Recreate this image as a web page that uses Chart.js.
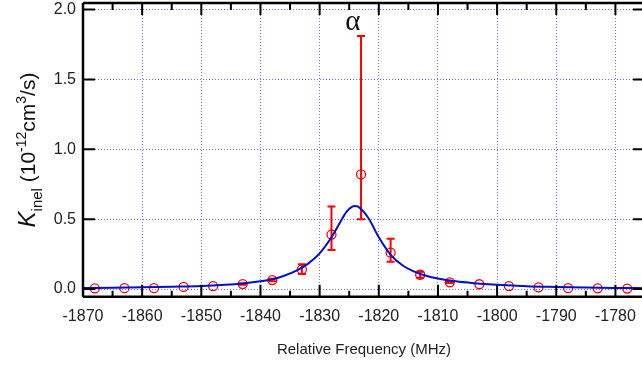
<!DOCTYPE html>
<html>
<head>
<meta charset="utf-8">
<script src="https://cdn.jsdelivr.net/npm/chart.js@4/dist/chart.umd.min.js"></script>
<style>
html,body{margin:0;padding:0;background:#fff;overflow:hidden;width:642px;height:370px;}
#wrap{width:646px;height:370px;}
</style>
</head>
<body>
<div id="wrap"><canvas id="c" width="646" height="370"></canvas></div>
<script>
// ---- data ----
const freq = [-1868,-1863,-1858,-1853,-1848,-1843,-1838,-1833,-1828,-1823,-1818,-1813,-1808,-1803,-1798,-1793,-1788,-1783,-1778];
const kinel = [0.004,0.006,0.006,0.015,0.02,0.035,0.064,0.14,0.39,0.82,0.26,0.102,0.048,0.034,0.021,0.012,0.006,0.005,0.003];
const errLow  = [null,null,null,null,null,0.03,0.055,0.107,0.28,0.50,0.195,0.08,0.043,null,null,null,null,null,null];
const errHigh = [null,null,null,null,null,0.04,0.073,0.178,0.59,1.81,0.36,0.124,0.053,null,null,null,null,null,null];
const fitFreq = [-1870,-1865,-1860,-1855,-1850,-1846,-1843,-1840,-1838,-1836,-1834,-1832,-1830,-1828,-1826.5,-1825.5,-1824.5,-1824,-1823.5,-1822.5,-1821.5,-1820,-1818,-1816,-1814,-1812,-1810,-1807,-1804,-1800,-1795,-1790,-1785,-1780,-1775];
const fitK = [0.007,0.009,0.012,0.016,0.021,0.03,0.04,0.055,0.07,0.095,0.13,0.18,0.255,0.37,0.48,0.55,0.59,0.595,0.59,0.55,0.49,0.37,0.245,0.17,0.125,0.095,0.075,0.055,0.042,0.03,0.02,0.015,0.011,0.008,0.006];
const xTicks = [-1870,-1860,-1850,-1840,-1830,-1820,-1810,-1800,-1790,-1780];
const yTicks = [0,0.5,1.0,1.5,2.0];
const peakLabel = {text:'α', x:-1824.4, y:1.91};

const FONT = "'Liberation Sans', Arial, Helvetica, sans-serif";

const errorBars = {
  id:'errorBars',
  beforeDatasetsDraw(chart){
    const {ctx, scales:{x,y}} = chart;
    ctx.save();
    ctx.strokeStyle = '#ff0000';
    ctx.lineWidth = 2;
    for(let i=0;i<freq.length;i++){
      if(errLow[i]==null) continue;
      const px = x.getPixelForValue(freq[i]);
      const y1 = y.getPixelForValue(errLow[i]);
      const y2 = y.getPixelForValue(errHigh[i]);
      ctx.beginPath();
      ctx.moveTo(px,y1); ctx.lineTo(px,y2);
      ctx.moveTo(px-4,y1); ctx.lineTo(px+4,y1);
      ctx.moveTo(px-4,y2); ctx.lineTo(px+4,y2);
      ctx.stroke();
    }
    ctx.restore();
  }
};

const frame = {
  id:'frame',
  afterDraw(chart){
    const {ctx, chartArea:a, scales:{x,y}} = chart;
    ctx.save();
    ctx.setLineDash([]);
    ctx.strokeStyle = '#000';
    ctx.lineWidth = 2.5;
    ctx.beginPath();
    ctx.moveTo(a.left, a.top); ctx.lineTo(a.left, a.bottom);
    ctx.moveTo(a.left, a.bottom); ctx.lineTo(a.right, a.bottom);
    ctx.moveTo(a.left, a.top); ctx.lineTo(a.right, a.top);
    ctx.moveTo(a.right, a.top); ctx.lineTo(a.right, a.bottom);
    ctx.stroke();
    ctx.lineWidth = 2;
    ctx.beginPath();
    xTicks.forEach((v,i)=>{
      const px = x.getPixelForValue(v);
      ctx.moveTo(px,a.bottom); ctx.lineTo(px,a.bottom-12);
      ctx.moveTo(px,a.top); ctx.lineTo(px,a.top+12);
      const m = v+5;
      if(m < x.max){
        const pm = x.getPixelForValue(m);
        ctx.moveTo(pm,a.bottom); ctx.lineTo(pm,a.bottom-6);
        ctx.moveTo(pm,a.top); ctx.lineTo(pm,a.top+7);
      }
    });
    yTicks.forEach(v=>{
      const py = y.getPixelForValue(v);
      ctx.moveTo(a.left,py); ctx.lineTo(a.left+12,py);
      ctx.moveTo(a.right,py); ctx.lineTo(a.right-12,py);
    });
    ctx.stroke();

    // peak label
    ctx.fillStyle = '#111';
    ctx.font = "29px 'Liberation Serif', 'Times New Roman', serif";
    ctx.textAlign = 'center';
    ctx.textBaseline = 'middle';
    ctx.fillText(peakLabel.text, x.getPixelForValue(peakLabel.x), y.getPixelForValue(peakLabel.y));

    // y-axis title with sub/superscripts
    const parts = [
      {t:'K', f:"italic 24px "+FONT, dy:0},
      {t:'inel', f:"15px "+FONT, dy:7},
      {t:' (10', f:"21px "+FONT, dy:0},
      {t:'-12', f:"14px "+FONT, dy:-9},
      {t:'cm', f:"21px "+FONT, dy:0},
      {t:'3', f:"14px "+FONT, dy:-9},
      {t:'/s)', f:"21px "+FONT, dy:0}
    ];
    let total = 0;
    parts.forEach(p=>{ctx.font=p.f; p.w=ctx.measureText(p.t).width; total+=p.w;});
    ctx.translate(35, 150);
    ctx.rotate(-Math.PI/2);
    ctx.textAlign='left';
    ctx.textBaseline='alphabetic';
    ctx.fillStyle='#111';
    let cx = -total/2;
    parts.forEach(p=>{ctx.font=p.f; ctx.fillText(p.t, cx, p.dy); cx+=p.w;});
    ctx.restore();
  }
};

const gridColor = 'rgb(110,110,255)';

new Chart(document.getElementById('c'), {
  type:'scatter',
  data:{
    datasets:[
      {
        type:'line',
        label:'fit',
        data: fitFreq.map((f,i)=>({x:f,y:fitK[i]})),
        borderColor:'#0010c8',
        borderWidth:2,
        pointRadius:0,
        fill:false,
        cubicInterpolationMode:'monotone'
      },
      {
        label:'data',
        data: freq.map((f,i)=>({x:f,y:kinel[i]})),
        borderColor:'#ff0000',
        backgroundColor:'rgba(0,0,0,0)',
        pointRadius:4.5,
        pointBorderWidth:1.3,
        showLine:false
      }
    ]
  },
  options:{
    responsive:false,
    animation:false,
    devicePixelRatio:1,
    layout:{autoPadding:false, padding:{top:3,right:1,left:0,bottom:0}},
    plugins:{legend:{display:false}, tooltip:{enabled:false}},
    scales:{
      x:{
        type:'linear', min:-1870, max:-1775,
        afterFit(s){ s.height = 73.3; s.paddingLeft = 0; s.paddingRight = 0; },
        afterBuildTicks(s){ s.ticks = xTicks.map(v=>({value:v})); },
        ticks:{callback:v=>String(v), font:{family:FONT,size:16}, color:'#222', padding:10, maxRotation:0, autoSkip:false},
        grid:{color:gridColor, lineWidth:1, drawTicks:false},
        border:{display:false, dash:[1,2]},
        title:{display:true, text:'Relative Frequency (MHz)', font:{family:FONT,size:15}, color:'#222', padding:{top:0,bottom:11}}
      },
      y:{
        type:'linear', min:-0.055, max:2.047,
        afterFit(s){ s.width = 83; s.paddingTop = 0; s.paddingBottom = 0; },
        afterBuildTicks(s){ s.ticks = yTicks.map(v=>({value:v})); },
        ticks:{callback:v=>v.toFixed(1), font:{family:FONT,size:16}, color:'#222', padding:7},
        grid:{color:gridColor, lineWidth:1, drawTicks:false},
        border:{display:false, dash:[1,2]}
      }
    }
  },
  plugins:[errorBars, frame]
});
</script>
</body>
</html>
